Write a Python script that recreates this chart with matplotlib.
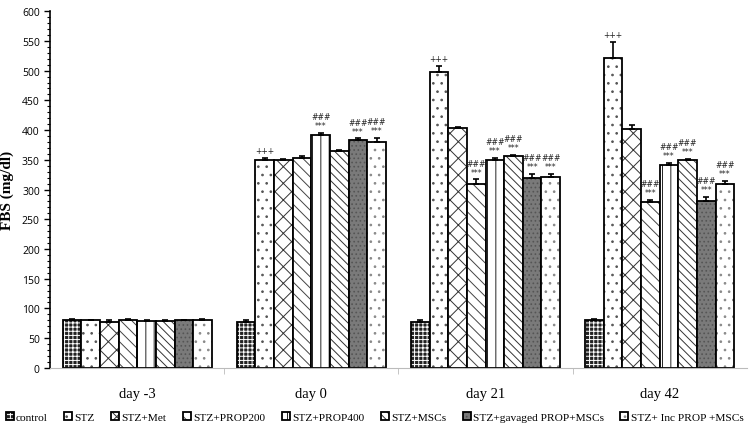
import numpy as np
import matplotlib
matplotlib.use("Agg")
import matplotlib.pyplot as plt

days = ["day -3", "day 0", "day 21", "day 42"]
groups = ["control", "STZ", "STZ+Met", "STZ+PROP200", "STZ+PROP400",
          "STZ+MSCs", "STZ+gavaged PROP+MSCs", "STZ+ Inc PROP +MSCs"]

# rows = groups, columns = days
means = [
    [81, 78, 78, 81],
    [80, 350, 497, 522],
    [78, 349, 403, 402],
    [80, 353, 310, 279],
    [79, 392, 350, 342],
    [79, 365, 356, 350],
    [80, 383, 320, 280],
    [80, 380, 321, 309],
]
errors = [
    [2, 2, 3, 2],
    [1, 3, 11, 26],
    [3, 3, 2, 6],
    [3, 3, 7, 4],
    [1, 3, 3, 3],
    [1, 2, 2, 2],
    [1, 3, 6, 8],
    [2, 7, 5, 6],
]
# significance marks per group / day
marks = [
    ["", "", "", ""],
    ["", "+++", "+++", "+++"],
    ["", "", "", ""],
    ["", "", "###\n***", "###\n***"],
    ["", "###\n***", "###\n***", "###\n***"],
    ["", "", "###\n***", "###\n***"],
    ["", "###\n***", "###\n***", "###\n***"],
    ["", "###\n***", "###\n***", "###\n***"],
]

faces = ["#222222", "white", "white", "white", "white", "white", "#7a7a7a", "white"]
hatches = ["++++", "..", "xx", "\\\\\\", "||", "\\\\\\\\", "....", ".."]
hcolors = ["white", "#555555", "#333333", "#444444", "#222222", "#333333", "#555555", "#888888"]

plt.rcParams["hatch.linewidth"] = 0.7

fig = plt.figure(figsize=(7.49, 4.35), dpi=100)
ax = fig.add_axes([0.067, 0.152, 0.93, 0.82])

x = np.arange(len(days))
w = 0.107
handles = []
for i in range(len(groups)):
    pos = x + (i - 3.5) * w
    bars = ax.bar(pos, means[i], w, color=faces[i], edgecolor="black",
                  linewidth=1.3, hatch=hatches[i], label=groups[i], zorder=2)
    for b in bars:
        b._hatch_color = matplotlib.colors.to_rgba(hcolors[i])
    handles.append(bars)
    ax.errorbar(pos, means[i], yerr=[[0] * 4, errors[i]], fmt="none",
                ecolor="black", elinewidth=1.2, capsize=2.5, capthick=1.2, zorder=3)
    for j in range(len(days)):
        if marks[i][j]:
            ax.annotate(marks[i][j], (pos[j], means[i][j] + errors[i][j]),
                        xytext=(0, 2), textcoords="offset points",
                        ha="center", va="bottom", fontsize=5.6,
                        linespacing=1.0, color="#222222")

ax.set_xlim(-0.5, 3.5)
ax.set_ylim(0, 600)
ax.set_yticks(np.arange(0, 601, 50))
ax.set_yticks(np.arange(0, 601, 10), minor=True)
ax.tick_params(axis="y", which="major", length=4, width=1, labelsize=7.5)
ax.tick_params(axis="y", which="minor", length=2, width=0.8)
ax.set_xticks(x)
ax.set_xticklabels(days, fontfamily="Liberation Serif", fontsize=10.5)
ax.set_xticks([0.5, 1.5, 2.5], minor=True)
ax.tick_params(axis="x", which="major", length=0, pad=14)
ax.tick_params(axis="x", which="minor", length=4, color="#bbbbbb")
for lab in ax.get_yticklabels():
    lab.set_fontfamily("Open Sans")
ax.spines["top"].set_visible(False)
ax.spines["right"].set_visible(False)
ax.spines["bottom"].set_color("#bbbbbb")
ax.spines["left"].set_linewidth(1.2)
ax.set_ylabel("FBS (mg/dl)", fontfamily="Liberation Serif", fontweight="bold",
              fontsize=11, labelpad=6)

fig.legend(handles, groups, loc="center", bbox_to_anchor=(0.5, 0.039), ncol=8,
           frameon=False, prop={"family": "Liberation Serif", "size": 8.2},
           handlelength=0.7, handleheight=0.7, handletextpad=0.2,
           columnspacing=1.45)

fig.savefig("out.png", dpi=100)
